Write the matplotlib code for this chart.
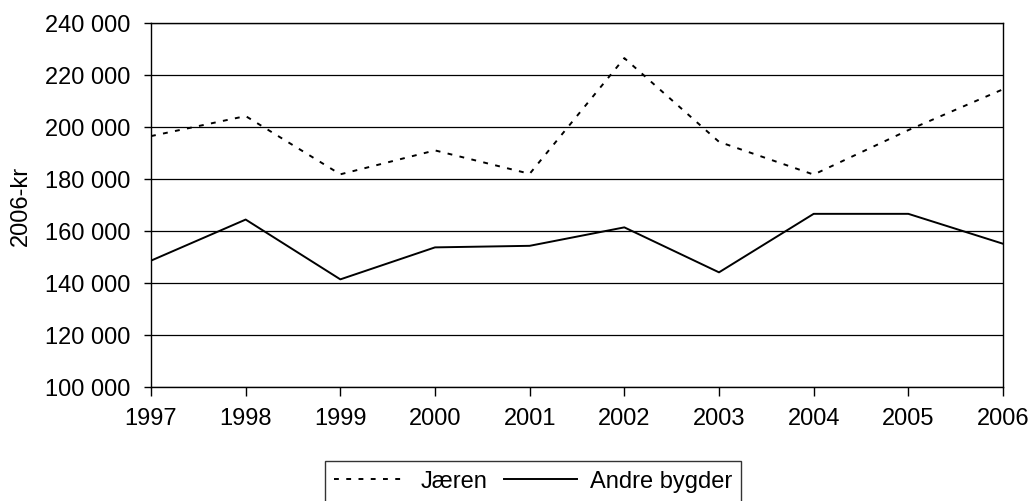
import matplotlib
matplotlib.use("Agg")
import matplotlib.pyplot as plt
from matplotlib.ticker import FuncFormatter

plt.rcParams["font.family"] = ["Liberation Sans", "DejaVu Sans"]

years = [1997, 1998, 1999, 2000, 2001, 2002, 2003, 2004, 2005, 2006]
jaeren = [196500, 204200, 181800, 191000, 182000, 226500, 194300, 181700, 198800, 214500]
andre = [148600, 164400, 141400, 153700, 154300, 161400, 144100, 166600, 166600, 155100]
y_ticks = [100000, 120000, 140000, 160000, 180000, 200000, 220000, 240000]

W, H = 1031, 502
fs = 17
fig = plt.figure(figsize=(W / 100, H / 100), dpi=100)
ax = fig.add_axes([151 / W, 1 - 388 / H, (1003 - 151) / W, (388 - 24) / H])

ax.plot(years, jaeren, color="black", linewidth=1.4, linestyle=(0, (2.5, 3.8)), label="Jæren")
ax.plot(years, andre, color="black", linewidth=1.4, linestyle="-", label="Andre bygder")

ax.set_xlim(years[0], years[-1])
ax.set_ylim(y_ticks[0], y_ticks[-1])
ax.set_yticks(y_ticks)
ax.set_xticks(years)
ax.yaxis.set_major_formatter(FuncFormatter(lambda v, p: f"{int(v):,}".replace(",", " ")))
ax.grid(axis="y", color="black", linewidth=0.9)
ax.set_axisbelow(True)
for s in ax.spines.values():
    s.set_linewidth(1.0)
    s.set_color("black")
ax.tick_params(axis="both", direction="out", width=1, labelsize=fs, colors="black")
ax.tick_params(axis="y", length=5, pad=10)
ax.tick_params(axis="x", length=6.5, pad=8)

fig.text(21 / W, 1 - 206 / H, "2006-kr", rotation=90, ha="center", va="center", fontsize=fs)

leg = fig.legend(loc="upper center", bbox_to_anchor=(533 / W, 1 - 462 / H), ncol=2, frameon=True,
                 fancybox=False, edgecolor="black", fontsize=fs, handlelength=3.1,
                 columnspacing=0.7, handletextpad=0.55, borderpad=0.4, borderaxespad=0)
leg.get_frame().set_linewidth(1.0)

fig.savefig("out.png", dpi=100)
